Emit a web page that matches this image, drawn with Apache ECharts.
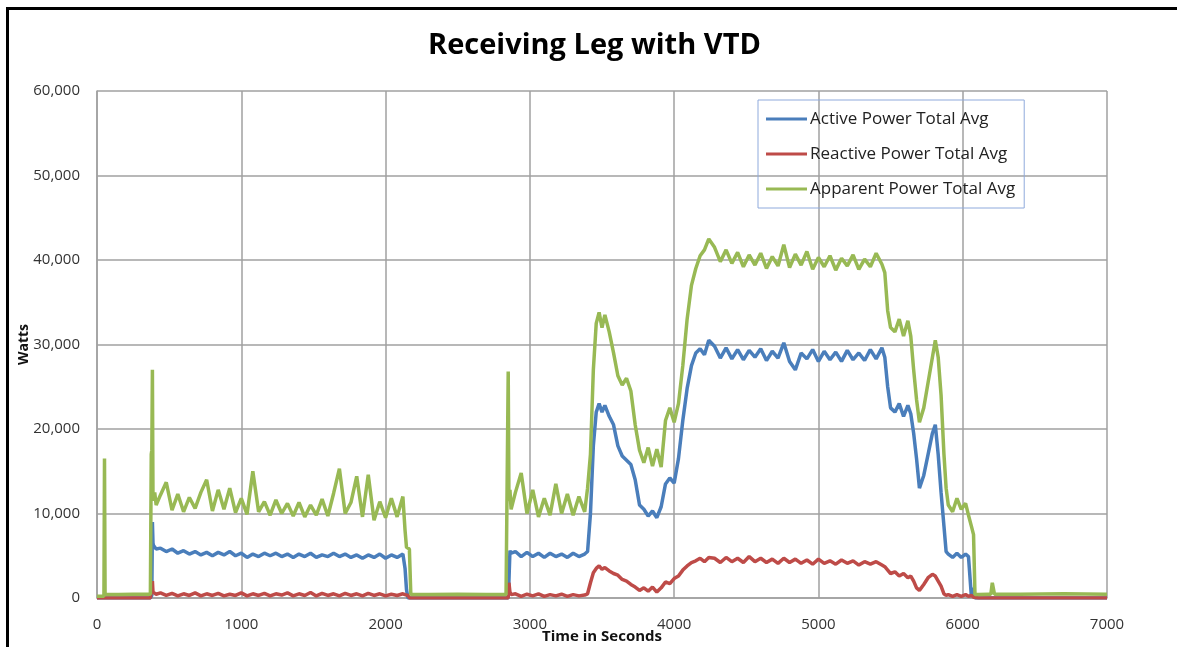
<!DOCTYPE html>
<html>
<head>
<meta charset="utf-8">
<title>Receiving Leg with VTD</title>
<script src="https://cdn.jsdelivr.net/npm/echarts@6/dist/echarts.min.js"></script>
<style>
    html, body { margin: 0; padding: 0; background: #fff; }
    #chart { width: 1177px; height: 647px; }
</style>
</head>
<body>
<div id="chart"></div>
<script>
// time stamps (seconds), shared by all three series
const times = [
    0, 48, 52, 56, 60, 150, 250, 370,
    376, 380, 384, 388, 392, 400, 410,
    440, 480, 520, 560, 600, 640, 680, 720, 760, 800, 840, 880, 920, 960, 1000,
    1040, 1080, 1120, 1160, 1200, 1240, 1280, 1320, 1360, 1400, 1440, 1480, 1520, 1560, 1600,
    1640, 1680, 1720, 1760, 1800, 1840, 1880, 1920, 1960, 2000, 2040, 2080, 2120,
    2135, 2145, 2155, 2165, 2175, 2200,
    2300, 2500, 2700, 2835, 2845,
    2850, 2855, 2862, 2870,
    2900, 2940, 2980, 3020, 3060, 3100, 3140, 3180, 3220, 3260, 3300, 3340, 3380,
    3400, 3420, 3440, 3460, 3480, 3500, 3520, 3550, 3580, 3610, 3640, 3670, 3700, 3730, 3760, 3790,
    3820, 3850, 3880, 3910, 3940, 3970, 4000, 4030, 4060, 4090, 4120, 4150, 4180, 4210, 4240,
    4280, 4320, 4360, 4400, 4440, 4480, 4520, 4560, 4600, 4640, 4680, 4720, 4760, 4800, 4840,
    4880, 4920, 4960, 5000, 5040, 5080, 5120, 5160, 5200, 5240, 5280, 5320, 5360, 5400, 5440,
    5460, 5480, 5500, 5530, 5560, 5590, 5620, 5640, 5660, 5680, 5700, 5730, 5760, 5790, 5810,
    5830, 5850, 5870, 5885, 5900, 5930, 5960, 5990, 6020, 6040, 6060, 6075, 6085, 6110,
    6180, 6195, 6205, 6220, 6400, 6700, 7000
];

const activePower = [
    0, 0, 0, 0, 0, 0, 0, 0,
    0, 300, 9000, 6500, 6200, 6000, 5800,
    5900, 5500, 5800, 5300, 5600, 5200, 5500, 5100, 5400, 5000, 5400, 5100, 5500, 5000, 5300,
    4800, 5200, 4900, 5300, 5000, 5300, 4900, 5200, 4800, 5200, 4900, 5300, 4800, 5100, 4900,
    5300, 4900, 5200, 4800, 5100, 4700, 5100, 4800, 5200, 4700, 5100, 4800, 5200,
    3500, 1000, 0, 0, 0, 0,
    0, 0, 0, 0, 0,
    0, 2000, 5600, 5300,
    5500, 4900, 5400, 4900, 5300, 4800, 5300, 4900, 5200, 4800, 5300, 4900, 5200,
    5500, 10000, 18000, 22000, 23000, 22000, 22800, 21500, 20500, 18000, 16800, 16300, 15800, 14000, 11000, 10500,
    9700, 10300, 9500, 10800, 13500, 14200, 13600, 16500, 21000, 24800, 27500, 29000, 29500, 28800, 30500,
    29800, 28400, 29600, 28300, 29400, 28200, 29300, 28500, 29500, 28100, 29200, 28400, 30200, 28000, 27000,
    29000, 28300, 29400, 28000, 29200, 28200, 29100, 28000, 29300, 28200, 29000, 28100, 29400, 28300, 29600,
    28500, 25000, 22500, 22000, 23000, 21500, 22800, 21800, 19500, 16500, 13000, 14500, 17000, 19500, 20500,
    17000, 12500, 8500, 5500, 5200, 4800, 5300, 4800, 5200, 4900, 200, 1200, 0, 0,
    0, 0, 0, 0, 0, 0, 0
];

const reactivePower = [
    0, 0, 0, 0, 0, 0, 0, 0,
    0, 200, 2000, 700, 500, 500, 450,
    600, 300, 550, 250, 500, 300, 600, 250, 500, 300, 550, 250, 450, 300, 600,
    250, 500, 300, 550, 250, 500, 350, 600, 250, 500, 300, 650, 250, 550, 300,
    500, 250, 550, 300, 500, 250, 550, 300, 500, 250, 450, 300, 500,
    400, 400, 300, 0, 0, 0,
    0, 0, 0, 0, 0,
    0, 1800, 700, 400,
    500, 200, 450, 250, 500, 200, 400, 250, 450, 200, 400, 250, 350,
    500, 1800, 3000, 3500, 3800, 3400, 3600, 3200, 2900, 2700, 2200, 2000, 1600, 1300, 900, 1200,
    800, 1300, 700, 1200, 1900, 1700, 2300, 2600, 3300, 3800, 4200, 4400, 4700, 4300, 4800,
    4700, 4200, 4800, 4300, 4700, 4200, 4900, 4300, 4700, 4200, 4600, 4100, 4700, 4200, 4600,
    4100, 4500, 4000, 4600, 4100, 4400, 4000, 4500, 4100, 4400, 3900, 4300, 4000, 4300, 3900,
    3700, 3300, 2900, 3100, 2600, 2900, 2400, 2600, 2000, 1200, 900, 1600, 2400, 2800, 2600,
    2000, 1400, 500, 300, 400, 200, 400, 200, 400, 200, 300, 100, 0, 0,
    0, 0, 0, 0, 0, 0, 0
];

const apparentPower = [
    200, 200, 16500, 400, 450, 400, 450, 450,
    17000, 17500, 27000, 12000, 11500, 12500, 11000,
    12200, 13700, 10400, 12300, 10200, 11900, 10600, 12500, 14000, 10300, 12800, 10500, 13000, 10100, 11800,
    9900, 15000, 10200, 11400, 9800, 11600, 10000, 11200, 9700, 11300, 9600, 11000, 9800, 11700, 9700,
    12400, 15300, 10000, 11300, 14400, 9600, 14600, 9200, 11400, 9500, 11800, 9600, 12000,
    8000, 6000, 6100, 5800, 400, 400,
    400, 450, 400, 400, 400,
    26800, 11500, 12800, 10500,
    12500, 14800, 10000, 12800, 9600, 11800, 9800, 13500, 10000, 12300, 9800, 12000, 10200,
    13000, 17000, 27000, 32500, 33800, 32000, 33500, 31500, 29000, 26300, 25200, 26000, 24500, 20500, 17500, 16000,
    17800, 15600, 17600, 15500, 21000, 22500, 20800, 23000, 27500, 33000, 37000, 39000, 40500, 41200, 42500,
    41500, 39800, 41200, 39600, 40900, 39200, 40600, 39400, 40800, 39000, 40400, 39300, 41800, 39100, 40700,
    39400, 41000, 38900, 40300, 39200, 40500, 38800, 40200, 39300, 40600, 38900, 40100, 39200, 40800, 39500,
    38500, 34000, 32000, 31500, 33000, 31000, 32800, 31000, 27000, 23500, 20800, 22500, 25500, 28500, 30500,
    28500, 24000, 17000, 13000, 11000, 10200, 11800, 10500, 11200, 9800, 8500, 7500, 400, 400,
    450, 450, 1800, 450, 450, 500, 450
];

const seriesNames = ['Active Power Total Avg', 'Reactive Power Total Avg', 'Apparent Power Total Avg'];
const seriesColors = ['#4A7EBB', '#BE4B48', '#98B954'];

const chart = echarts.init(document.getElementById('chart'));

const makeSeries = (name, values, color) => ({
    name: name,
    type: 'line',
    symbol: 'none',
    sampling: 'none',
    lineStyle: { width: 3.5, color: color },
    itemStyle: { color: color },
    data: times.map((t, i) => [t, values[i]])
});

const gridColor = '#A0A0A0';

const option = {
    animation: false,
    textStyle: { fontFamily: 'Open Sans' },
    title: {
        text: 'Receiving Leg with VTD',
        left: 428,
        top: 31,
        padding: 0,
        textStyle: {
            fontFamily: 'Open Sans',
            fontSize: 29,
            fontWeight: 'bold',
            color: '#000'
        }
    },
    legend: {
        orient: 'vertical',
        left: 758,
        top: 100,
        padding: [10, 9, 10, 8],
        icon: 'rect',
        itemWidth: 41,
        itemHeight: 3,
        itemGap: 17,
        borderColor: '#8FAADC',
        borderWidth: 1,
        textStyle: { fontSize: 17, lineHeight: 18, color: '#222', padding: [0, 0, 0, -2] },
        data: seriesNames
    },
    grid: {
        left: 97,
        right: 70,
        top: 91,
        bottom: 49,
        outerBoundsMode: 'none'
    },
    xAxis: {
        type: 'value',
        min: 0,
        max: 7000,
        interval: 1000,
        name: 'Time in Seconds',
        nameLocation: 'middle',
        nameMoveOverlap: false,
        nameGap: 31,
        nameTextStyle: { fontSize: 15, fontWeight: 'bold', color: '#111' },
        axisLine: { show: true, lineStyle: { color: gridColor, width: 1.5 } },
        axisTick: { show: false },
        axisLabel: { fontSize: 15, color: '#333', margin: 19, formatter: (v) => String(v) },
        splitLine: { show: true, lineStyle: { color: gridColor, width: 1.5 } }
    },
    yAxis: {
        type: 'value',
        min: 0,
        max: 60000,
        interval: 10000,
        name: 'Watts',
        nameLocation: 'middle',
        nameMoveOverlap: false,
        nameRotate: 90,
        nameGap: 66,
        nameTextStyle: { fontSize: 14, fontWeight: 'bold', color: '#111' },
        axisLine: { show: true, lineStyle: { color: gridColor, width: 1.5 } },
        axisTick: { show: false },
        axisLabel: {
            fontSize: 15,
            color: '#333',
            margin: 17,
            formatter: (v) => v.toLocaleString('en-US')
        },
        splitLine: { show: true, lineStyle: { color: gridColor, width: 1.5 } }
    },
    graphic: [
        {
            type: 'line',
            silent: true,
            shape: { x1: 6, y1: 8.5, x2: 1177, y2: 8.5 },
            style: { stroke: '#000', lineWidth: 3 }
        },
        {
            type: 'line',
            silent: true,
            shape: { x1: 7.5, y1: 7, x2: 7.5, y2: 647 },
            style: { stroke: '#000', lineWidth: 3 }
        }
    ],
    series: [
        makeSeries(seriesNames[0], activePower, seriesColors[0]),
        makeSeries(seriesNames[1], reactivePower, seriesColors[1]),
        makeSeries(seriesNames[2], apparentPower, seriesColors[2])
    ]
};

chart.setOption(option);

window.addEventListener('resize', () => chart.resize());
</script>
</body>
</html>
